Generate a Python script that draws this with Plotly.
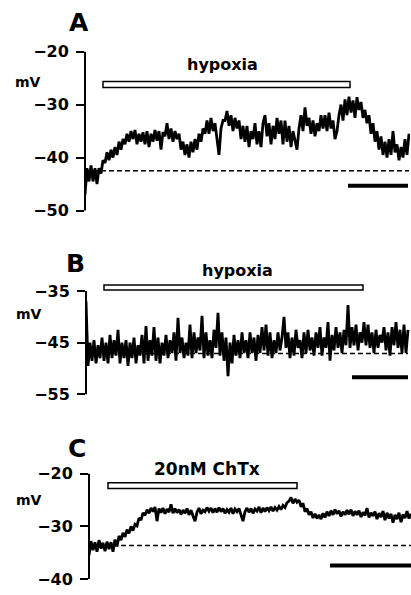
import plotly.graph_objects as go

# ---------------- data ----------------
SAMPLE_S = 4  # seconds between samples

vA = [-47, -42, -44.5, -41.5, -44.5, -42, -45, -42, -43, -40.5,
      -41, -39, -40.5, -38.5, -40, -38, -39.5, -37, -38.5, -36.5,
      -37.5, -35.5, -37, -35, -36.5, -34.8, -37.5, -35.5, -37, -35.2,
      -37.5, -35, -38, -35.5, -37, -34.8, -36.8, -35, -38.5, -35.2,
      -36, -33.5, -36.5, -34.5, -37, -35, -36.5, -35.5, -38.5, -37,
      -39.5, -37.5, -40, -37, -39, -36.5, -38.5, -35.5, -37, -34.5,
      -35.5, -33, -35.5, -32.5, -35, -33.5, -36.5, -39.5, -34.5, -33,
      -33, -31.2, -34, -32, -35, -32.5, -34.5, -33, -36.5, -34,
      -37, -34, -38, -35, -36.5, -33.5, -37.5, -35, -38, -33.5,
      -32, -36, -33.5, -37.5, -34, -36.5, -32.5, -35.5, -33, -37.5,
      -33, -37, -34, -38, -35, -36.5, -38.5, -34.5, -32, -35,
      -30.5, -34, -32.5, -35.5, -33, -36, -33.5, -35, -32, -34.5,
      -32, -35, -31.5, -34.5, -33, -36.5, -35, -32, -30, -33,
      -29, -32, -28.5, -31.5, -29.2, -32.5, -28.6, -31, -29.5, -32.5,
      -31, -33.5, -32, -35.5, -33.5, -37, -35, -38.5, -36, -39.5,
      -37, -40, -36.5, -39.5, -35, -39, -37.5, -40.5, -38, -40,
      -36.5, -39.5, -35.5]

vB = [-37, -49.5, -45, -48.5, -44.5, -49, -45.5, -48, -44, -48.5,
      -45, -49, -43.5, -48, -44.5, -47.5, -42.5, -49, -45, -48,
      -44.5, -49.5, -45, -48, -44, -49, -45.5, -47.5, -43.5, -49,
      -41.8, -48.5, -44.5, -47.5, -42, -48.5, -44, -49, -45, -47.5,
      -43.5, -48, -44.5, -47, -43, -48.5, -40.2, -47, -44, -48,
      -45, -47.5, -41.5, -48, -43, -47, -44, -46.5, -39.8, -48,
      -43, -47.5, -44.5, -48, -42.5, -46, -39.2, -47.5, -43, -48.5,
      -44, -51.5, -45, -49, -43.5, -47.5, -44.5, -48, -43, -47,
      -44.5, -48, -43, -47, -44, -48.5, -43.5, -47, -42, -46.5,
      -41.5, -47.5, -43, -48, -44.5, -47, -43, -46.5, -44, -40,
      -46, -43, -48, -44, -47.5, -42.5, -46, -44.5, -48, -43,
      -47, -42.5, -46.5, -44, -47.5, -43, -46, -42, -47.5, -44,
      -46, -41, -48.5, -43.5, -46.5, -42, -46, -43, -47, -42.5,
      -45.5, -37.7, -46, -42, -45.5, -41.5, -46.5, -43, -45, -41,
      -45.5, -41.5, -46, -43, -47, -42.5, -46, -43.5, -45, -42,
      -46.5, -43, -47.5, -42, -45.5, -41, -46, -42.5, -47, -41.5,
      -47, -42.5]

vC = [-35.5, -32.8, -34.5, -33, -34.8, -32.6, -34.2, -33.1, -34.7, -32.9,
      -34.3, -33, -34.8, -32.5, -33.8, -31.8, -32.6, -31.2, -32, -30.6,
      -31.3, -30, -30.8, -29.6, -29.9, -28.4, -28.8, -27.4, -27.9, -26.8,
      -27.5, -26.5, -27.2, -26.3, -29, -26.6, -27.4, -26.5, -27.6, -26.7,
      -27.3, -25.8, -27.5, -26.6, -27.4, -26.8, -27.7, -26.9, -27.5, -26.6,
      -27.8, -26.9, -28, -29, -27.3, -26.5, -27.6, -26.9, -27.2, -26.4,
      -27.1, -26.5, -27.4, -26.6, -27.3, -26.4, -27.2, -26.6, -27.5, -26.8,
      -27.3, -26.5, -27.6, -26.7, -27.2, -26.6, -27.8, -29, -27.2, -26.5,
      -27.3, -26.6, -27.5, -26.7, -27.1, -26.3, -27.4, -26.5, -27.2, -26.4,
      -27, -26.3, -27.1, -26.4, -26.9, -26.2, -26.8, -26, -26.4, -25.5,
      -25.2, -24.5, -25.6, -24.8, -25.4, -25, -26.3, -25.6, -27.2, -26.6,
      -27.8, -27.2, -28.4, -27.6, -28.5, -27.8, -28.6, -27.5, -28.3, -27.2,
      -28, -27, -27.8, -26.8, -27.6, -27, -28.1, -27.2, -27.8, -26.9,
      -27.7, -26.8, -28, -27.1, -27.8, -27, -28.2, -27.3, -27.9, -26.5,
      -28.3, -27.4, -28, -27.2, -28.6, -27.5, -28.2, -27.1, -28.8, -27.4,
      -28.5, -27.6, -29.3, -27.8, -28.6, -27.4, -29.2, -27.7, -28.4, -27.1,
      -28.5, -27.6]

tA = [i * SAMPLE_S for i in range(len(vA))]
tB = [i * SAMPLE_S for i in range(len(vB))]
tC = [i * SAMPLE_S for i in range(len(vC))]

tick_vals_A = [-50, -40, -30, -20]
tick_vals_B = [-55, -45, -35]
tick_vals_C = [-40, -30, -20]

baseline_A, baseline_B, baseline_C = -42.5, -47.1, -33.6

# stimulus bars: (start s, end s, low mV, high mV)
stim_A = (36, 530, -26.75, -25.65)
stim_B = (36, 554, -34.8, -33.85)
stim_C = (38, 416, -22.8, -21.7)
stim_labels = ["hypoxia", "hypoxia", "20nM ChTx"]
stim_label_pos = [(274, -22.44), (302, -30.96), (236, -19.06)]

# time scale bars: (start s, end s, level mV)
scale_A = (526, 646, -45.3)
scale_B = (532, 644, -51.7)
scale_C = (482, 644, -37.4)

panel_letters = ["A", "B", "C"]

# ---------------- layout helpers ----------------
W, H = 411, 595


def px_x(px):
    return px / W


def px_y(py):
    return 1 - py / H


def y_domain(v_top_tick, py_top_tick, px_per_mv, rng):
    lo, hi = rng
    py_hi = py_top_tick - (hi - v_top_tick) * px_per_mv
    py_lo = py_top_tick + (v_top_tick - lo) * px_per_mv
    return [px_y(py_lo), px_y(py_hi)]


panels = [
    dict(t=tA, v=vA, ticks=tick_vals_A, base=baseline_A, stim=stim_A, scale=scale_A,
         xr=[0, 650], xdom=[px_x(85), px_x(410)], yr=[-52, -17],
         ydom=y_domain(-20, 52, 160 / 30, [-52, -17]),
         letter_xy=(79, 23), mv_xy=(28, 83), label_size=16),
    dict(t=tB, v=vB, ticks=tick_vals_B, base=baseline_B, stim=stim_B, scale=scale_B,
         xr=[0, 650], xdom=[px_x(86), px_x(411)], yr=[-56, -30],
         ydom=y_domain(-35, 293, 5.2, [-56, -30]),
         letter_xy=(75, 265), mv_xy=(29, 316), label_size=16),
    dict(t=tC, v=vC, ticks=tick_vals_C, base=baseline_C, stim=stim_C, scale=scale_C,
         xr=[0, 644], xdom=[px_x(89), px_x(411)], yr=[-41, -18],
         ydom=y_domain(-20, 477, 5.3, [-41, -18]),
         letter_xy=(77, 452), mv_xy=(29, 503), label_size=17),
]

FONT = "DejaVu Sans, Liberation Sans, Arial, sans-serif"

fig = go.Figure()
layout = dict(width=W, height=H, margin=dict(l=0, r=0, t=0, b=0),
              paper_bgcolor="white", plot_bgcolor="white", showlegend=False)
shapes, annotations = [], []

for i, p in enumerate(panels):
    n = "" if i == 0 else str(i + 1)
    xa, ya = "x" + n, "y" + n
    fig.add_trace(go.Scatter(x=p["t"], y=p["v"], mode="lines",
                             line=dict(color="black", width=2.8),
                             xaxis=xa, yaxis=ya, hoverinfo="skip"))
    layout["xaxis" + n] = dict(domain=p["xdom"], range=p["xr"], visible=False,
                               anchor=ya, fixedrange=True)
    layout["yaxis" + n] = dict(domain=p["ydom"], range=p["yr"], anchor=xa,
                               showline=False, showgrid=False, zeroline=False,
                               ticks="outside", ticklen=8, tickwidth=2, tickcolor="black",
                               tickvals=p["ticks"], ticklabelstandoff=4,
                               tickfont=dict(family=FONT, size=16, color="black", weight="bold"),
                               fixedrange=True)
    # axis spine from lowest to highest tick
    shapes.append(dict(type="line", xref=xa + " domain", yref=ya, x0=0, x1=0,
                       y0=min(p["ticks"]), y1=max(p["ticks"]),
                       line=dict(color="black", width=2)))
    # dashed baseline
    shapes.append(dict(type="line", xref=xa, yref=ya, x0=p["t"][0], x1=p["t"][-1],
                       y0=p["base"], y1=p["base"], layer="below",
                       line=dict(color="black", width=1.5, dash="5px,3px")))
    # stimulus bar
    s0, s1, lo, hi = p["stim"]
    shapes.append(dict(type="rect", xref=xa, yref=ya, x0=s0, x1=s1, y0=lo, y1=hi,
                       fillcolor="white", line=dict(color="black", width=1.5)))
    # time scale bar
    c0, c1, lvl = p["scale"]
    shapes.append(dict(type="line", xref=xa, yref=ya, x0=c0, x1=c1, y0=lvl, y1=lvl,
                       line=dict(color="black", width=4)))
    # texts
    lx, ly = stim_label_pos[i]
    annotations.append(dict(x=lx, y=ly, xref=xa, yref=ya, text=stim_labels[i],
                            showarrow=False, xanchor="center", yanchor="middle",
                            font=dict(family=FONT, size=p["label_size"], color="black",
                                      weight="bold")))
    annotations.append(dict(x=px_x(p["letter_xy"][0]), y=px_y(p["letter_xy"][1]),
                            xref="paper", yref="paper", text=panel_letters[i],
                            showarrow=False, xanchor="center", yanchor="middle",
                            font=dict(family=FONT, size=25, color="black", weight="bold")))
    annotations.append(dict(x=px_x(p["mv_xy"][0]), y=px_y(p["mv_xy"][1]),
                            xref="paper", yref="paper", text="mV",
                            showarrow=False, xanchor="center", yanchor="middle",
                            font=dict(family=FONT, size=14, color="black", weight="bold")))

layout["shapes"] = shapes
layout["annotations"] = annotations
fig.update_layout(**layout)
fig.write_html("out.html", config={"displayModeBar": False},
               post_script="document.body.style.margin='0';document.body.style.overflow='hidden';")
